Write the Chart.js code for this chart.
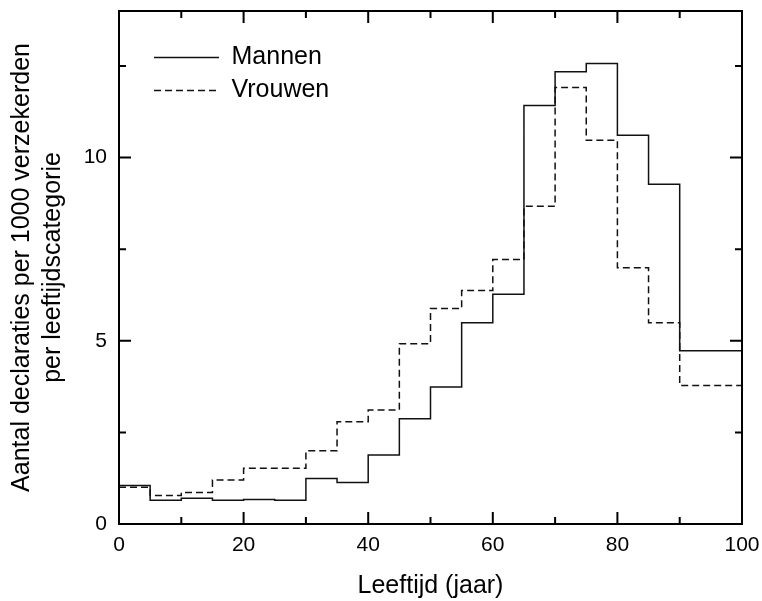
<!DOCTYPE html>
<html>
<head>
<meta charset="utf-8">
<script src="https://cdn.jsdelivr.net/npm/chart.js@4.4.1/dist/chart.umd.min.js"></script>
<style>
  html, body { margin: 0; padding: 0; background: #fff; }
  #chart { display: block; }
</style>
</head>
<body>
<canvas id="chart" width="762" height="601"></canvas>
<script>
// Age bin edges (years); the last bin covers 90-100
const ageEdges = [0, 5, 10, 15, 20, 25, 30, 35, 40, 45, 50, 55, 60, 65, 70, 75, 80, 85, 90, 100];

// Claims per 1000 insured, one value per age bin
const mannen = [1.05, 0.65, 0.70, 0.65, 0.67, 0.65, 1.24, 1.13, 1.88, 2.87, 3.74, 5.49, 6.27, 11.42, 12.34, 12.57, 10.61, 9.27, 4.73];
const vrouwen = [1.00, 0.78, 0.86, 1.20, 1.52, 1.52, 2.00, 2.79, 3.11, 4.92, 5.88, 6.37, 7.22, 8.67, 11.91, 10.47, 6.99, 5.49, 3.78];

// Tick positions for the inward tick marks
const xMajorTicks = [0, 20, 40, 60, 80, 100];
const xMinorTicks = [10, 30, 50, 70, 90];
const yMajorTicks = [0, 5, 10];
const yMinorTicks = [2.5, 7.5, 12.5];

const FONT = "'Liberation Sans', Arial, sans-serif";

// one point per bin edge, last value repeated to close the final bin
function toSteps(values) {
    return ageEdges.map((edge, i) => ({ x: edge, y: values[Math.min(i, values.length - 1)] }));
}

// frame around the plot plus inward ticks on all four sides
const framePlugin = {
    id: 'frame',
    afterLayout(chart) {
        // legend sits inside the plot; offset it from the top-left corner
        const a = chart.chartArea;
        chart.legend.left = a.left + 27;
        chart.legend.top = a.top + 26;
    },
    afterDraw(chart) {
        const { ctx, chartArea: a, scales } = chart;
        const sx = scales.x, sy = scales.y;
        ctx.save();
        ctx.strokeStyle = '#000';
        ctx.lineWidth = 2;
        ctx.strokeRect(a.left, a.top, a.right - a.left, a.bottom - a.top);

        const xTicks = (vals, len) => vals.forEach(v => {
            const px = sx.getPixelForValue(v);
            ctx.beginPath();
            ctx.moveTo(px, a.bottom); ctx.lineTo(px, a.bottom - len);
            ctx.moveTo(px, a.top); ctx.lineTo(px, a.top + len);
            ctx.stroke();
        });
        const yTicks = (vals, len) => vals.forEach(v => {
            const py = sy.getPixelForValue(v);
            ctx.beginPath();
            ctx.moveTo(a.left, py); ctx.lineTo(a.left + len, py);
            ctx.moveTo(a.right, py); ctx.lineTo(a.right - len, py);
            ctx.stroke();
        });
        xTicks(xMajorTicks, 12);
        xTicks(xMinorTicks, 7);
        yTicks(yMajorTicks, 12);
        yTicks(yMinorTicks, 7);
        ctx.restore();
    }
};

Chart.defaults.font.family = FONT;
Chart.defaults.color = '#000';

new Chart(document.getElementById('chart'), {
    type: 'line',
    data: {
        datasets: [
            {
                label: 'Mannen',
                data: toSteps(mannen),
                stepped: 'before',
                borderColor: '#111',
                borderWidth: 1.5,
                pointRadius: 0,
                fill: false
            },
            {
                label: 'Vrouwen',
                data: toSteps(vrouwen),
                stepped: 'before',
                borderColor: '#111',
                borderWidth: 1.5,
                borderDash: [7, 4],
                pointRadius: 0,
                fill: false
            }
        ]
    },
    options: {
        responsive: false,
        animation: false,
        layout: { padding: { top: 11, right: 20, bottom: 0, left: 0 } },
        scales: {
            x: {
                type: 'linear',
                min: 0,
                max: 100,
                grid: { display: false, drawTicks: false },
                border: { display: false },
                ticks: { stepSize: 20, padding: 9, font: { size: 21 }, color: '#000' },
                title: {
                    display: true,
                    text: 'Leeftijd (jaar)',
                    font: { size: 25 },
                    color: '#000',
                    padding: { top: 0, bottom: 0 }
                },
                afterFit(scale) {
                    scale.height = 77;
                    scale.paddingLeft = 0;
                    scale.paddingRight = 0;
                }
            },
            y: {
                min: 0,
                max: 14,
                grid: { display: false, drawTicks: false },
                border: { display: false },
                ticks: { stepSize: 5, includeBounds: false, padding: 12, font: { size: 21 }, color: '#000' },
                title: {
                    display: true,
                    text: ['Aantal declaraties per 1000 verzekerden', 'per leeftijdscategorie'],
                    font: { size: 25, lineHeight: '31px' },
                    color: '#000',
                    padding: { top: 7, bottom: 0 }
                },
                afterFit(scale) {
                    scale.width = 119;
                    scale.paddingTop = 0;
                    scale.paddingBottom = 0;
                }
            }
        },
        plugins: {
            legend: {
                position: 'chartArea',
                align: 'start',
                labels: {
                    usePointStyle: true,
                    pointStyle: 'line',
                    pointStyleWidth: 65,
                    padding: 8,
                    font: { size: 25 },
                    color: '#000',
                    // point-style items lose the dataset dash, so copy it back
                    generateLabels(chart) {
                        const items = Chart.defaults.plugins.legend.labels.generateLabels(chart);
                        items.forEach(item => {
                            item.lineDash = chart.data.datasets[item.datasetIndex].borderDash || [];
                        });
                        return items;
                    }
                }
            },
            tooltip: { enabled: false }
        }
    },
    plugins: [framePlugin]
});
</script>
</body>
</html>
